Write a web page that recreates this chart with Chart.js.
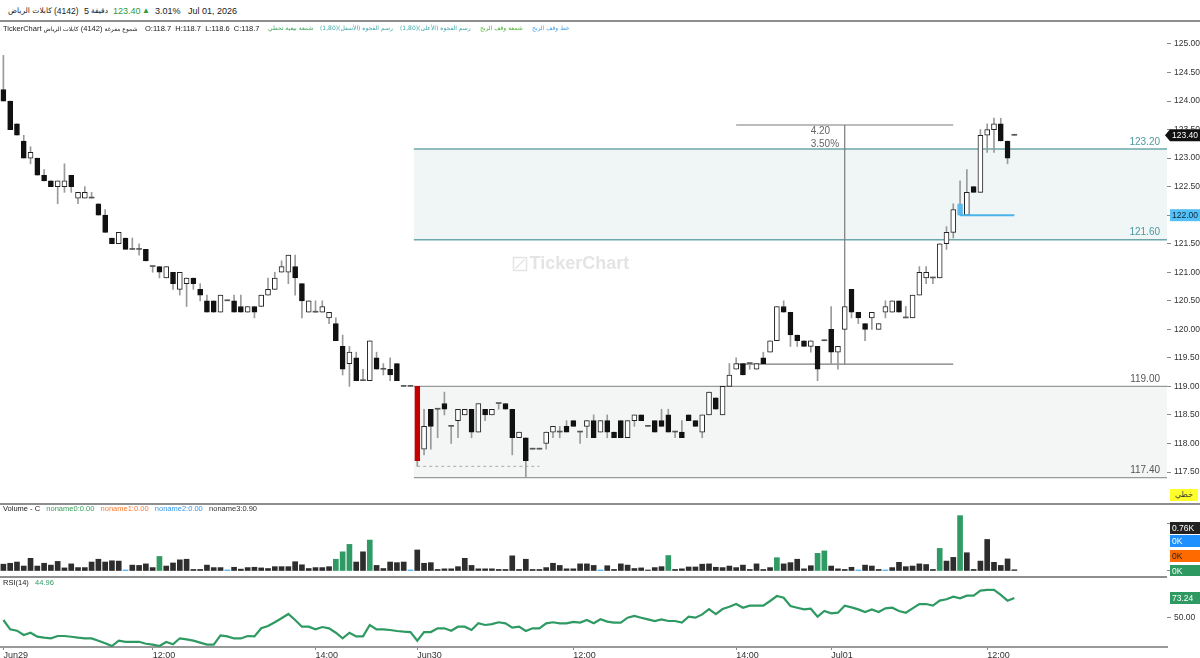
<!DOCTYPE html>
<html lang="ar">
<head>
<meta charset="utf-8">
<title>كابلات الرياض (4142)</title>
<script src="https://cdn.jsdelivr.net/npm/chart.js@4.4.0/dist/chart.umd.min.js"></script>
<style>
  body { margin: 0; background: #fff; font-family: 'Liberation Sans', 'DejaVu Sans', Arial, sans-serif; }
  #page { position: relative; width: 1200px; height: 658px; overflow: hidden; direction: ltr; }
  canvas { position: absolute; left: 0; }
  .t { position: absolute; white-space: nowrap; color: #222; line-height: 1; z-index: 2; }
  .rule { position: absolute; left: 0; height: 2px; background: #8e8e8e; z-index: 2; }
  .ar { font-family: 'DejaVu Sans', sans-serif; }
</style>
</head>
<body>
<div id="page">
  <div class="t ar" style="left:8px;top:7px;font-size:7.5px"><bdi>كابلات الرياض</bdi></div>
  <div class="t" style="left:54px;top:7px;font-size:8.5px">(4142)</div>
  <div class="t" style="left:84px;top:7px;font-size:9px">5</div>
  <div class="t ar" style="left:91px;top:7px;font-size:7.5px"><bdi>دقيقة</bdi></div>
  <div class="t" style="left:113px;top:7px;font-size:9px;color:#2e9a3e">123.40</div>
  <div class="t" style="left:142px;top:7px;font-size:8px;color:#2e9a3e">▲</div>
  <div class="t" style="left:155px;top:7px;font-size:9px">3.01%</div>
  <div class="t" style="left:188px;top:7px;font-size:9px">Jul 01, 2026</div>
  <div class="rule" style="top:20px;width:1200px"></div>

  <div class="t" style="left:3px;top:25px;font-size:7.5px">TickerChart
    <bdi class="ar" style="font-size:6px">كابلات الرياض</bdi> <bdi>(4142)</bdi>
    <bdi class="ar" style="font-size:6px">شموع مفرغة</bdi></div>
  <div class="t" style="left:145px;top:25px;font-size:7.5px">O:118.7&nbsp;&nbsp;H:118.7&nbsp;&nbsp;L:118.6&nbsp;&nbsp;C:118.7</div>
  <div class="t ar" dir="rtl" style="left:268px;top:25px;font-size:6px;color:#3aa55a">شمعة بيعية تحطي</div>
  <div class="t ar" dir="rtl" style="left:320px;top:25px;font-size:6px;color:#3aa5a8">رسم الفجوة (الأسفل)(1,80)</div>
  <div class="t ar" dir="rtl" style="left:400px;top:25px;font-size:6px;color:#3aa5a8">رسم الفجوة (الأعلى)(1,80)</div>
  <div class="t ar" dir="rtl" style="left:480px;top:25px;font-size:6px;color:#46b02e">شمعة وقف الربح</div>
  <div class="t ar" dir="rtl" style="left:532px;top:25px;font-size:6px;color:#3a9ee8">خط وقف الربح</div>

  <canvas id="price" width="1200" height="479" style="top:24px"></canvas>
  <div class="rule" style="top:503px;width:1200px"></div>

  <div class="t" style="left:3px;top:505px;font-size:7.5px">Volume - C&nbsp;&nbsp;
    <span style="color:#3aa05a">noname0:0.00</span>&nbsp;&nbsp;
    <span style="color:#ff7a30">noname1:0.00</span>&nbsp;&nbsp;
    <span style="color:#3399ee">noname2:0.00</span>&nbsp;&nbsp;
    <span style="color:#333">noname3:0.90</span></div>
  <canvas id="volume" width="1200" height="71" style="top:505px"></canvas>
  <div class="rule" style="top:576px;width:1167px"></div>

  <div class="t" style="left:3px;top:579px;font-size:7.5px">RSI(14)&nbsp;&nbsp; <span style="color:#2e9a62">44.96</span></div>
  <canvas id="rsi" width="1200" height="81" style="top:577px"></canvas>
</div>

<script>
Chart.defaults.font.family = "'Liberation Sans', 'DejaVu Sans', Arial, sans-serif";
Chart.defaults.font.size = 9;
Chart.defaults.color = '#333';
Chart.defaults.animation = false;

// 5-minute candles, one per slot
const opens = [
  124.2,124.0,123.6,123.3,123.0,123.0,122.7,122.6,122.5,122.5,
  122.7,122.3,122.3,122.3,122.2,122.0,121.6,121.5,121.6,121.4,
  121.4,121.4,121.1,121.1,120.9,121.0,120.7,120.8,120.9,120.7,
  120.5,120.5,120.3,120.5,120.5,120.4,120.3,120.4,120.4,120.6,
  120.7,121.0,121.0,121.1,120.8,120.3,120.3,120.3,120.2,120.1,
  119.7,119.4,119.5,119.1,119.1,119.5,119.3,119.3,119.4,119.0,
  119.0,
  119.0,117.9,118.6,118.6,118.7,118.3,118.4,118.5,118.6,118.2,
  118.6,118.5,118.7,118.7,118.6,118.1,118.1,117.9,117.9,118.0,
  118.2,118.2,118.3,118.4,118.2,118.3,118.4,118.2,118.4,118.2,
  118.4,118.1,118.4,118.5,118.3,118.4,118.4,118.5,118.2,118.2,
  118.5,118.4,118.2,118.5,118.8,118.5,119.0,119.3,119.4,119.4,
  119.3,119.5,119.6,119.8,120.4,120.3,119.9,119.8,119.7,119.7,
  119.8,
  120.0,119.6,120.0,120.7,120.3,120.1,120.2,120.0,120.3,120.3,
  120.5,120.2,120.2,120.6,120.9,120.9,120.9,121.5,121.7,122.0,
  122.0,122.5,122.4,123.4,123.5,123.6,123.3,123.4
];
const highs = [
  124.8,124.0,123.6,123.4,123.2,123.0,122.8,122.6,122.6,122.9,
  122.7,122.4,122.5,122.4,122.2,122.1,121.6,121.7,121.6,121.6,
  121.5,121.4,121.1,121.1,121.1,121.0,121.0,120.9,120.9,120.8,
  120.6,120.5,120.6,120.5,120.6,120.6,120.4,120.4,120.6,120.9,
  121.0,121.2,121.3,121.3,120.8,120.5,120.5,120.5,120.3,120.2,
  119.9,119.7,119.6,119.3,119.8,119.6,119.4,119.5,119.4,119.0,
  119.0,
  119.0,118.6,118.6,118.6,118.9,118.3,118.6,118.6,118.6,118.7,
  118.6,118.6,118.7,118.7,118.6,118.2,118.1,117.9,117.9,118.2,
  118.3,118.3,118.4,118.4,118.2,118.4,118.5,118.4,118.5,118.2,
  118.4,118.4,118.5,118.5,118.3,118.4,118.6,118.6,118.2,118.4,
  118.5,118.4,118.5,118.9,118.8,119.0,119.4,119.5,119.4,119.4,
  119.4,119.6,119.8,120.4,120.5,120.3,119.9,119.8,119.8,119.7,
  119.8,
  120.4,119.7,120.4,120.7,120.3,120.1,120.3,120.1,120.5,120.5,
  120.5,120.4,120.6,121.1,121.1,120.9,121.5,121.8,122.2,122.6,
  122.8,122.5,123.5,123.6,123.7,123.7,123.3,123.4
];
const lows = [
  124.0,123.5,123.4,123.0,122.9,122.7,122.6,122.5,122.2,122.4,
  122.4,122.2,122.3,122.3,122.0,121.7,121.5,121.5,121.4,121.4,
  121.3,121.2,121.0,120.9,120.9,120.7,120.6,120.4,120.7,120.5,
  120.3,120.3,120.3,120.5,120.3,120.3,120.3,120.2,120.4,120.6,
  120.7,121.0,120.8,120.6,120.2,120.3,120.3,120.3,120.1,119.8,
  119.2,119.0,119.1,119.1,119.1,119.3,119.2,119.1,119.1,119.0,
  119.0,
  117.6,117.8,117.9,118.1,118.5,118.0,118.1,118.5,118.1,118.2,
  118.4,118.5,118.6,118.6,117.8,118.1,117.4,117.9,117.9,117.9,
  118.1,118.1,118.2,118.3,118.0,118.1,118.1,118.2,118.1,118.1,
  118.1,118.1,118.3,118.4,118.3,118.2,118.3,118.2,118.1,118.1,
  118.4,118.3,118.1,118.5,118.6,118.5,119.0,119.3,119.2,119.3,
  119.3,119.4,119.6,119.8,120.3,119.7,119.7,119.7,119.6,119.1,
  119.8,
  119.4,119.3,120.0,120.2,120.1,119.8,120.0,120.0,120.2,120.3,
  120.3,120.2,120.2,120.6,120.8,120.8,120.9,121.4,121.6,122.0,
  122.0,122.4,122.4,123.1,123.1,123.3,122.9,123.4
];
const closes = [
  124.0,123.5,123.4,123.0,123.1,122.7,122.6,122.5,122.6,122.6,
  122.5,122.4,122.4,122.3,122.0,121.7,121.5,121.7,121.4,121.4,
  121.4,121.2,121.1,121.0,121.1,120.8,121.0,120.9,120.8,120.6,
  120.3,120.3,120.6,120.5,120.3,120.3,120.4,120.3,120.6,120.7,
  120.9,121.1,121.3,120.9,120.5,120.5,120.3,120.4,120.3,119.8,
  119.3,119.6,119.1,119.1,119.8,119.3,119.3,119.2,119.1,119.0,
  119.0,
  117.7,118.3,118.3,118.6,118.6,118.3,118.6,118.6,118.2,118.7,
  118.5,118.6,118.7,118.6,118.1,118.2,117.7,117.9,117.9,118.2,
  118.3,118.2,118.2,118.3,118.2,118.4,118.1,118.4,118.2,118.1,
  118.1,118.4,118.5,118.4,118.3,118.2,118.3,118.2,118.2,118.1,
  118.4,118.3,118.5,118.9,118.6,119.0,119.2,119.4,119.2,119.4,
  119.4,119.4,119.8,120.4,120.3,119.9,119.8,119.7,119.8,119.3,
  119.8,
  119.6,119.7,120.4,120.3,120.2,120.0,120.3,120.1,120.4,120.5,
  120.3,120.2,120.6,121.0,121.0,120.9,121.5,121.7,122.1,122.2,
  122.4,122.4,123.4,123.5,123.6,123.3,123.0,123.4
];
const volumes = [
  110,125,145,80,205,80,125,95,155,50,
  115,55,55,145,190,145,165,160,15,95,
  90,115,55,235,80,130,180,190,25,25,
  95,55,55,10,60,30,55,60,50,40,
  70,70,70,150,100,40,55,55,70,190,
  310,430,145,310,500,90,40,145,135,145,
  10,
  340,125,135,25,35,35,70,205,90,35,
  35,35,25,25,245,25,190,25,25,55,
  125,90,35,35,115,115,90,10,85,25,
  115,95,40,50,5,55,70,250,25,35,
  65,65,110,115,60,55,80,55,95,25,
  115,25,55,215,115,135,190,35,85,285,
  325,
  80,35,25,60,10,95,80,25,10,55,
  140,70,80,115,105,25,365,160,220,895,
  295,25,160,510,140,90,195,20
];
const volGreen = [23, 49, 50, 51, 54, 98, 114, 120, 121, 138, 141];
const volBlue = [18, 33, 60, 88, 126, 130];
const rsiValues = [
  47.3,36.3,34.7,29.6,32.3,27.6,26.5,25.7,28.4,28.4,
  27.5,26.5,25.7,25.5,22.9,19.8,16.6,22.9,21.6,21.6,
  21.6,19.3,18.2,16.6,21.3,18.6,25.7,24.4,22.9,20.6,
  18.2,18.2,29.2,28.0,25.5,25.5,28.4,28.0,37.5,40.2,
  44.6,49.3,54.4,47.3,39.4,39.4,36.3,39.0,37.5,32.3,
  25.7,32.3,28.0,28.0,41.4,36.3,36.3,35.5,34.3,33.5,
  33.1,22.9,33.1,33.1,37.5,37.5,34.7,39.4,39.4,35.5,
  43.4,41.4,42.5,44.6,43.4,38.3,39.4,34.3,37.5,37.5,
  43.4,44.6,43.4,43.4,45.0,44.2,47.3,43.4,48.1,45.4,
  44.2,44.2,50.0,52.0,50.0,48.1,46.1,48.1,46.1,46.1,
  44.2,51.2,50.0,53.9,60.2,54.3,60.2,63.0,66.1,61.8,
  64.2,64.2,64.2,69.7,75.6,73.6,63.8,61.8,59.8,60.6,
  51.2,57.9,55.1,55.9,64.2,62.2,59.8,56.7,59.8,56.7,
  61.0,61.8,57.9,55.9,61.0,66.1,66.1,64.2,70.1,71.7,
  74.8,72.8,76.0,76.0,81.9,82.7,82.7,76.8,70.1,73.24
];

const tickIdx = [0, 22, 46, 61, 84, 108, 122, 145];
const tickLabels = ['Jun29', '12:00', '14:00', 'Jun30', '12:00', '14:00', 'Jul01', '12:00'];
const priceTicks = [117.5, 118, 118.5, 119, 119.5, 120, 120.5, 121, 121.5, 122, 122.5, 123, 123.5, 124, 124.5, 125];

// drawn objects
const zoneTop = [123.16, 119.0];
const zoneBottom = [121.57, 117.4];
const zoneStart = 61;
const measureIdx = [108, 124, 140];
const measureLevels = [123.58, 119.39];
const measureText = ['4.20', '3.50%'];
const stopLevel = 122.0;
const stopIdx = [141, 149];
const gapLevel = 117.6;
const gapIdx = [61, 79];
const redCandle = 61;
const blueCandle = 141;
const volTag = 760;

const N_SLOTS = 172;
const slotLabels = Array.from({ length: N_SLOTS }, (_, i) => String(i));
const pad = arr => slotLabels.map((_, i) => (i < arr.length ? arr[i] : null));

const wicks = pad(lows.map((l, i) => [l, highs[i]]));
const bodies = pad(opens.map((o, i) => [Math.min(o, closes[i]), Math.max(o, closes[i])]));
const bodyFill = opens.map((o, i) => {
  if (i === redCandle) return '#c40000';
  if (i === blueCandle) return '#5ab8ec';
  if (o === closes[i]) return '#555';
  return closes[i] > o ? '#ffffff' : '#111111';
});
const bodyLine = bodyFill.map(c => (c === '#ffffff' ? '#222' : c));
const bodyBorder = opens.map((o, i) => (o === closes[i] ? 0 : 1));
const volColor = volumes.map((_, i) =>
  volGreen.includes(i) ? '#2f9a63' : volBlue.includes(i) ? '#3aa8f0' : '#2d2d2d');

function xAxis(show) {
  return {
    type: 'category',
    offset: true,
    display: show,
    afterFit: s => { if (show) s.height = 11; s.paddingLeft = 0; s.paddingRight = 0; },
    afterBuildTicks: s => { s.ticks = tickIdx.map(v => ({ value: v })); },
    grid: { drawOnChartArea: false, drawTicks: true, tickLength: 3, color: '#888' },
    border: { display: true, color: '#999', width: 2 },
    ticks: {
      autoSkip: false, maxRotation: 0, align: 'start', padding: 0,
      color: '#333', font: { size: 9 },
      callback: (v, i) => tickLabels[i]
    }
  };
}

function rightAxis(min, max, values, fmt) {
  return {
    position: 'right',
    min: min,
    max: max,
    afterFit: s => { s.width = 33; s.paddingTop = 0; s.paddingBottom = 0; },
    afterBuildTicks: s => { s.ticks = values.map(v => ({ value: v })); },
    grid: { drawOnChartArea: false, drawTicks: true, tickLength: 4, color: '#8a8a8a' },
    border: { display: false },
    ticks: { padding: 3, color: '#333', font: { size: 8.5 }, callback: fmt }
  };
}

function tag(ctx, x, yc, text, bg, fg, pointed) {
  const w = 30, h = 12;
  ctx.fillStyle = bg;
  ctx.beginPath();
  if (pointed) {
    ctx.moveTo(x - 5, yc);
    ctx.lineTo(x, yc - h / 2);
  } else {
    ctx.moveTo(x, yc - h / 2);
  }
  ctx.lineTo(x + w, yc - h / 2);
  ctx.lineTo(x + w, yc + h / 2);
  ctx.lineTo(x, yc + h / 2);
  ctx.closePath();
  ctx.fill();
  ctx.fillStyle = fg;
  ctx.font = "8.5px 'Liberation Sans', Arial, sans-serif";
  ctx.textAlign = 'left';
  ctx.textBaseline = 'middle';
  ctx.fillText(text, x + 2, yc + 0.5);
}

function hline(ctx, x0, x1, yy) {
  ctx.beginPath();
  ctx.moveTo(x0, yy);
  ctx.lineTo(x1, yy);
  ctx.stroke();
}

const priceMarks = {
  id: 'priceMarks',
  beforeDatasetsDraw(chart) {
    const { ctx, chartArea: a, scales: { x, y } } = chart;
    const slot = x.getPixelForValue(1) - x.getPixelForValue(0);
    ctx.save();

    // watermark
    const cx = (a.left + a.right) / 2, cy = (a.top + a.bottom) / 2;
    ctx.fillStyle = '#e4e4e4';
    ctx.strokeStyle = '#e4e4e4';
    ctx.font = "bold 18px 'Liberation Sans', Arial, sans-serif";
    ctx.textAlign = 'left';
    ctx.textBaseline = 'middle';
    ctx.fillText('TickerChart', cx - 54, cy + 1);
    ctx.lineWidth = 1.5;
    ctx.strokeRect(cx - 70, cy - 6, 13, 13);
    ctx.beginPath();
    ctx.moveTo(cx - 68, cy + 5);
    ctx.lineTo(cx - 59, cy - 4);
    ctx.stroke();

    zoneTop.forEach((top, k) => {
      const x0 = x.getPixelForValue(zoneStart) - slot / 2;
      const y0 = y.getPixelForValue(top), y1 = y.getPixelForValue(zoneBottom[k]);
      ctx.fillStyle = k === 0 ? '#f0f6f6' : '#f4f5f5';
      ctx.fillRect(x0, y0, a.right - x0, y1 - y0);
      ctx.strokeStyle = k === 0 ? '#6da7a9' : '#999';
      ctx.lineWidth = k === 0 ? 1.6 : 1.2;
      hline(ctx, x0, a.right, y0);
      hline(ctx, x0, a.right, y1);
      ctx.font = "10px 'Liberation Sans', Arial, sans-serif";
      ctx.fillStyle = k === 0 ? '#4a9aa1' : '#555';
      ctx.textAlign = 'right';
      ctx.textBaseline = 'bottom';
      [top, zoneBottom[k]].forEach(v =>
        ctx.fillText((Math.round(v * 10) / 10).toFixed(2), a.right - 7, y.getPixelForValue(v) - 2));
    });

    // gap low dashed line
    ctx.strokeStyle = '#aaa';
    ctx.lineWidth = 1;
    ctx.setLineDash([3, 3]);
    hline(ctx, x.getPixelForValue(gapIdx[0]), x.getPixelForValue(gapIdx[1]), y.getPixelForValue(gapLevel));
    ctx.setLineDash([]);

    // measure tool
    const mx0 = x.getPixelForValue(measureIdx[0]);
    const mxv = x.getPixelForValue(measureIdx[1]);
    const mx1 = x.getPixelForValue(measureIdx[2]);
    const my0 = y.getPixelForValue(measureLevels[0]);
    const my1 = y.getPixelForValue(measureLevels[1]);
    ctx.strokeStyle = '#7a7a7a';
    ctx.lineWidth = 1.2;
    hline(ctx, mx0, mx1, my0);
    hline(ctx, mx0, mx1, my1);
    ctx.beginPath();
    ctx.moveTo(mxv, my0);
    ctx.lineTo(mxv, my1);
    ctx.stroke();
    ctx.fillStyle = '#666';
    ctx.font = "10px 'Liberation Sans', Arial, sans-serif";
    ctx.textAlign = 'left';
    ctx.textBaseline = 'middle';
    ctx.fillText(measureText[0], mxv - 34, my0 + 6);
    ctx.fillText(measureText[1], mxv - 34, my0 + 19);
    ctx.restore();
  },
  afterDatasetsDraw(chart) {
    const { ctx, scales: { x, y } } = chart;
    ctx.save();
    ctx.strokeStyle = '#4ab3ea';
    ctx.lineWidth = 2;
    hline(ctx, x.getPixelForValue(stopIdx[0]), x.getPixelForValue(stopIdx[1]), y.getPixelForValue(stopLevel));
    ctx.restore();
  },
  afterDraw(chart) {
    const { ctx, chartArea: a, scales: { y } } = chart;
    ctx.save();
    tag(ctx, a.right + 3, y.getPixelForValue(stopLevel), stopLevel.toFixed(2), '#55c0f5', '#0b2a40', false);
    const last = closes[closes.length - 1];
    tag(ctx, a.right + 3, y.getPixelForValue(last), last.toFixed(2), '#111', '#fff', true);
    ctx.fillStyle = '#ffff2a';
    ctx.fillRect(a.right + 3, a.bottom - 14, 28, 12);
    ctx.fillStyle = '#333';
    ctx.font = "8px 'DejaVu Sans', sans-serif";
    ctx.textAlign = 'center';
    ctx.textBaseline = 'middle';
    ctx.fillText('خطي', a.right + 17, a.bottom - 8);
    ctx.restore();
  }
};

new Chart(document.getElementById('price'), {
  type: 'bar',
  data: {
    labels: slotLabels,
    datasets: [
      {
        label: 'body', data: bodies,
        backgroundColor: bodyFill, borderColor: bodyLine, borderWidth: bodyBorder,
        borderSkipped: false, barThickness: 5, minBarLength: 1, grouped: false, order: 0
      },
      {
        label: 'wick', data: wicks,
        backgroundColor: '#9a9a9a', barThickness: 1, minBarLength: 1, grouped: false, order: 1
      }
    ]
  },
  options: {
    responsive: false,
    events: [],
    layout: { padding: 0 },
    plugins: { legend: { display: false }, tooltip: { enabled: false } },
    scales: {
      x: xAxis(false),
      y: rightAxis(116.957, 125.35, priceTicks, v => v.toFixed(2))
    }
  },
  plugins: [priceMarks]
});

const volMarks = {
  id: 'volMarks',
  afterDraw(chart) {
    const { ctx, chartArea: a, scales: { y } } = chart;
    const base = y.getPixelForValue(0);
    ctx.save();
    tag(ctx, a.right + 3, y.getPixelForValue(volTag) + 4, (volTag / 1000).toFixed(2) + 'K', '#222', '#fff', false);
    tag(ctx, a.right + 3, base - 30, '0K', '#1e90ff', '#fff', false);
    tag(ctx, a.right + 3, base - 15, '0K', '#ff6a00', '#222', false);
    tag(ctx, a.right + 3, base, '0K', '#2e9a62', '#fff', false);
    ctx.restore();
  }
};

new Chart(document.getElementById('volume'), {
  type: 'bar',
  data: {
    labels: slotLabels,
    datasets: [{
      label: 'Volume', data: pad(volumes),
      backgroundColor: volColor, barThickness: 5, minBarLength: 1
    }]
  },
  options: {
    responsive: false,
    events: [],
    layout: { padding: 0 },
    plugins: { legend: { display: false }, tooltip: { enabled: false } },
    scales: {
      x: xAxis(false),
      y: rightAxis(-81, 1067, [0, volTag], () => '')
    }
  },
  plugins: [volMarks]
});

const rsiMarks = {
  id: 'rsiMarks',
  afterDraw(chart) {
    const { ctx, chartArea: a, scales: { y } } = chart;
    const last = rsiValues[rsiValues.length - 1];
    ctx.save();
    tag(ctx, a.right + 3, y.getPixelForValue(last), last.toFixed(2), '#2e9a62', '#fff', false);
    ctx.restore();
  }
};

new Chart(document.getElementById('rsi'), {
  type: 'line',
  data: {
    labels: slotLabels,
    datasets: [{
      label: 'RSI(14)', data: pad(rsiValues),
      borderColor: '#2e9a62', borderWidth: 2.2, pointRadius: 0, tension: 0, fill: false
    }]
  },
  options: {
    responsive: false,
    events: [],
    layout: { padding: 0 },
    plugins: { legend: { display: false }, tooltip: { enabled: false } },
    scales: {
      x: xAxis(true),
      y: rightAxis(15.44, 98.0, [50], v => v.toFixed(2))
    }
  },
  plugins: [rsiMarks]
});
</script>
</body>
</html>
